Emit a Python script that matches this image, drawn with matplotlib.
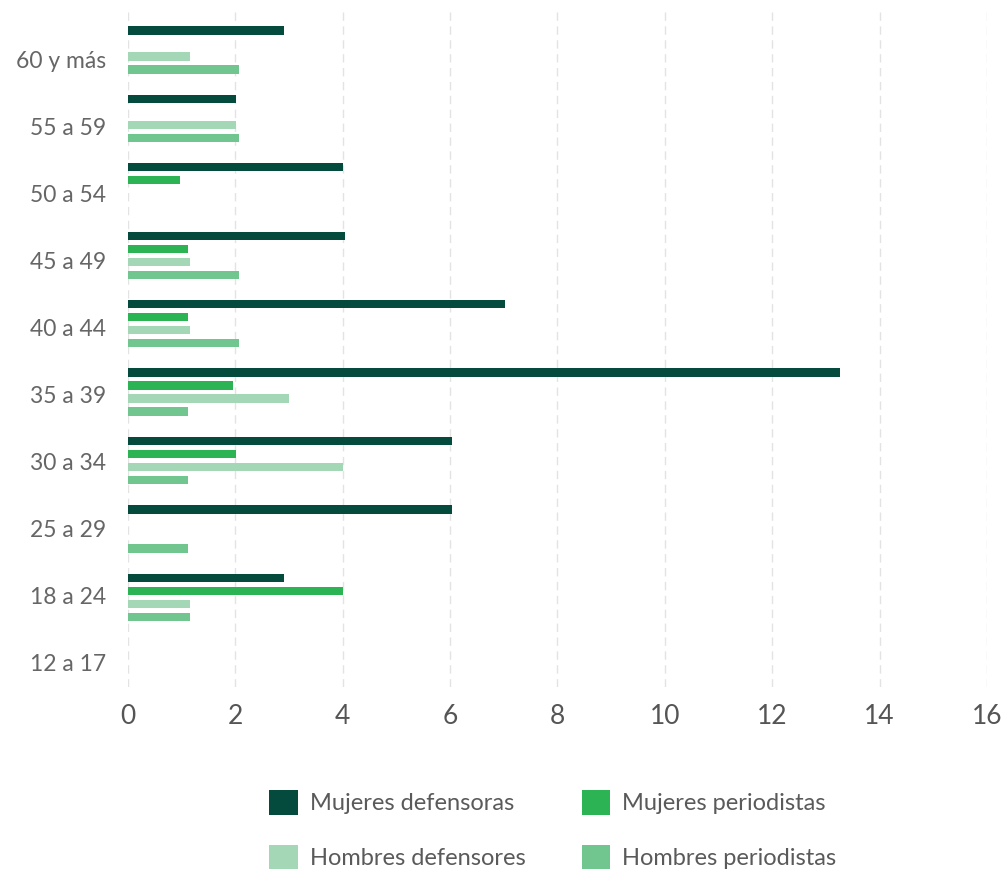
import numpy as np
import matplotlib
matplotlib.use("Agg")
import matplotlib.pyplot as plt
from matplotlib.patches import Patch

plt.rcParams['font.family'] = ['Lato', 'DejaVu Sans']

# age groups, bottom to top
edades = ["12 a 17", "18 a 24", "25 a 29", "30 a 34", "35 a 39",
          "40 a 44", "45 a 49", "50 a 54", "55 a 59", "60 y más"]

mujeres_defensoras = [0, 2.9, 6.04, 6.04, 13.26, 7.02, 4.05, 4.0, 2.01, 2.9]
mujeres_periodistas = [0, 4.0, 0, 2.01, 1.96, 1.12, 1.12, 0.97, 0, 0]
hombres_defensores = [0, 1.16, 0, 4.0, 3.0, 1.16, 1.16, 0, 2.01, 1.16]
hombres_periodistas = [0, 1.16, 1.12, 1.12, 1.12, 2.06, 2.06, 0, 2.06, 2.06]

series = [
    ("Mujeres defensoras", mujeres_defensoras, "#044b3e"),
    ("Mujeres periodistas", mujeres_periodistas, "#2bb354"),
    ("Hombres defensores", hombres_defensores, "#a4d7b5"),
    ("Hombres periodistas", hombres_periodistas, "#71c68f"),
]

fig = plt.figure(figsize=(10.07, 8.72), dpi=100)
ax = fig.add_axes([0.1271, 0.2122, 0.853, 0.78])

y = np.arange(len(edades))
step = 0.19
h = 0.12
for k, (name, vals, col) in enumerate(series):
    ax.barh(y + (1.5 - k) * step, vals, height=h, color=col, label=name)

ax.set_xlim(0, 16)
ax.set_ylim(-0.31, 9.63)
ax.set_xticks(np.arange(0, 17, 2))
# labels sit a little below the group centre towards the top
ax.set_yticks(np.linspace(0.05, 8.86, len(edades)))
ax.set_yticklabels(edades)
ax.tick_params(axis='y', length=0, pad=16, labelsize=16.5, labelcolor="#666666")
ax.tick_params(axis='x', length=0, pad=12, labelsize=19, labelcolor="#555555")
for s in ax.spines.values():
    s.set_visible(False)
ax.grid(axis='x', color="#e3e3e3", linestyle=(0, (6, 4)), linewidth=1)
ax.set_axisbelow(True)

# legend rows: mujeres on top, hombres below
orden = [0, 2, 1, 3]
handles = [Patch(facecolor=series[i][2], label=series[i][0]) for i in orden]
fig.legend(handles=handles, loc='upper center', bbox_to_anchor=(0.549, 0.118),
           ncol=2, frameon=False, fontsize=17, labelcolor="#5a5a5a",
           handlelength=1.2, handleheight=1.2, handletextpad=0.5,
           columnspacing=2.4, labelspacing=1.3)

fig.savefig("out.png", dpi=100)
